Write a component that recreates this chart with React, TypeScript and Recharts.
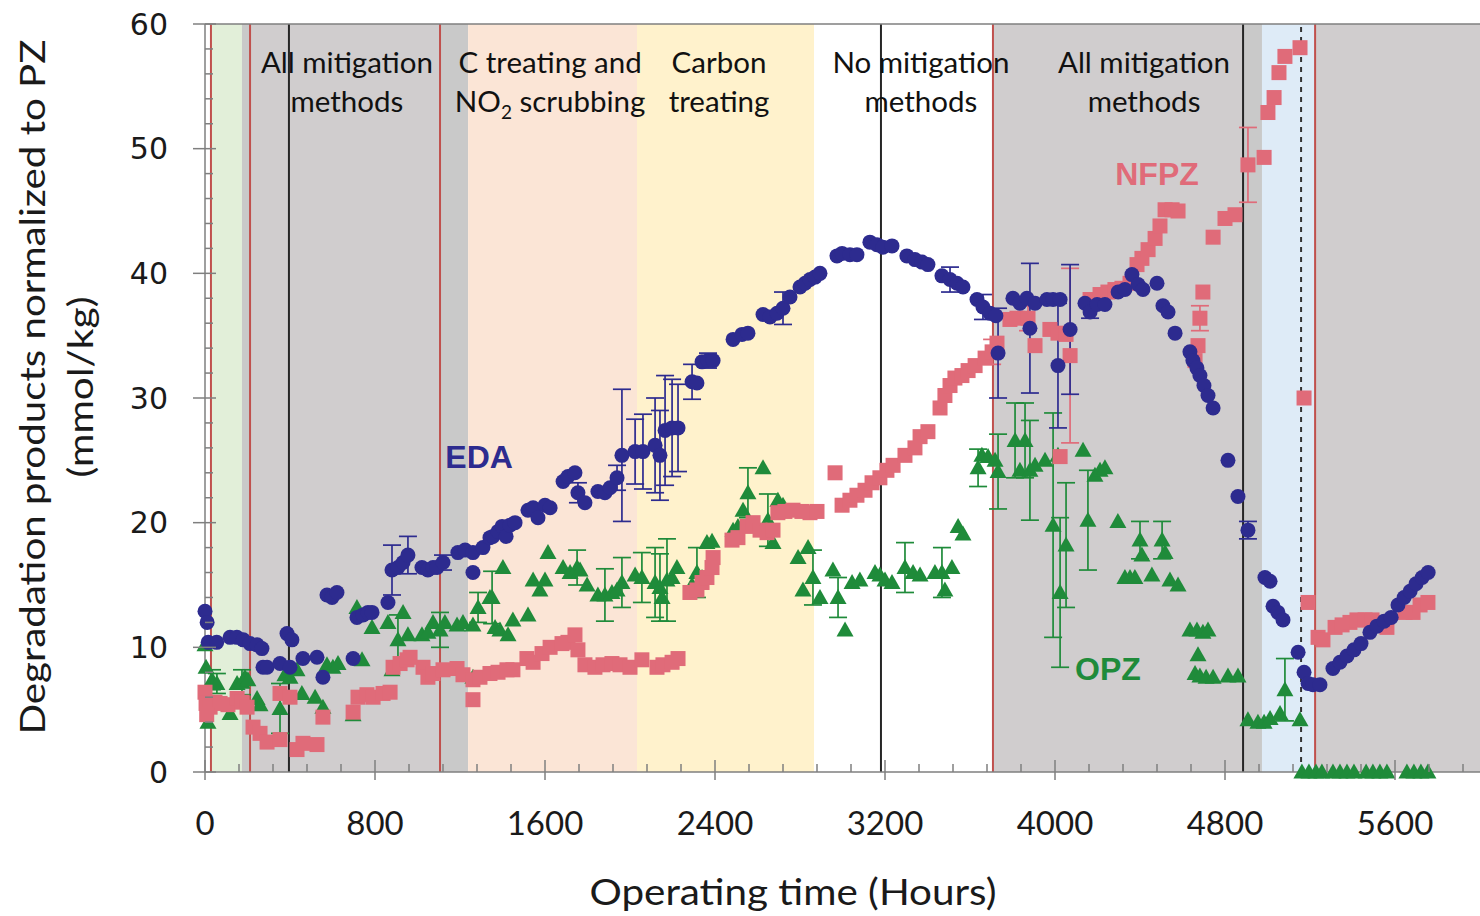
import React from 'react';
import {
  ComposedChart,
  Scatter,
  XAxis,
  YAxis,
  ReferenceArea,
  ReferenceLine,
  ReferenceDot,
  ErrorBar,
  Label,
} from 'recharts';

// [operating hours, concentration (mmol/kg), optional ± error]
type Pt = [number, number] | [number, number, number];

const edaPoints: Pt[] = [
  [0, 12.9], [10, 12.0], [15, 10.4], [55, 10.4], [118, 10.8], [150, 10.8], [180, 10.6],
  [212, 10.3], [245, 10.2], [268, 9.9], [273, 8.4], [292, 8.4], [353, 8.7], [386, 11.1],
  [409, 10.6], [400, 8.4], [461, 9.1], [527, 9.2], [555, 7.6], [574, 14.2], [598, 14.0],
  [621, 14.4], [697, 9.1], [715, 12.4], [744, 12.6], [767, 12.8], [786, 12.8], [861, 13.6],
  [880, 16.2, 2.0], [908, 16.4], [932, 16.8], [955, 17.4, 1.5], [1021, 16.4], [1049, 16.2],
  [1073, 16.4], [1092, 16.4], [1120, 16.8, 0.6], [1190, 17.6], [1224, 17.8], [1261, 17.6],
  [1261, 16.0], [1308, 18.0], [1341, 18.8], [1355, 18.9], [1379, 19.3], [1398, 19.7],
  [1417, 18.9], [1435, 19.8], [1459, 20.0], [1520, 21.0], [1544, 21.2], [1567, 20.4],
  [1600, 21.4], [1624, 21.2], [1685, 23.3], [1708, 23.7], [1741, 24.0], [1755, 22.4, 0.8],
  [1788, 21.6], [1849, 22.5], [1882, 22.4], [1906, 22.8], [1939, 23.6, 1.0],
  [1962, 25.4, 5.3], [2024, 25.7, 2.6], [2061, 25.7, 3.0], [2118, 26.2, 3.8],
  [2141, 25.4, 3.6], [2165, 27.4, 4.4], [2198, 27.6, 3.9], [2226, 27.6, 3.5],
  [2292, 31.3, 1.4], [2315, 31.2], [2339, 32.9], [2367, 33.0, 0.6], [2391, 33.0],
  [2485, 34.7], [2527, 35.1], [2555, 35.2], [2626, 36.7], [2659, 36.5], [2692, 36.8],
  [2720, 37.2, 1.3], [2753, 38.1], [2800, 38.9], [2824, 39.2], [2847, 39.5], [2871, 39.7],
  [2894, 40.0], [2974, 41.4], [2998, 41.6], [3035, 41.5], [3068, 41.5], [3129, 42.5],
  [3162, 42.3], [3190, 42.1], [3233, 42.2], [3303, 41.4], [3341, 41.1], [3374, 40.9],
  [3402, 40.7], [3468, 39.8], [3506, 39.5, 1.0], [3539, 39.2], [3567, 38.9], [3633, 37.9],
  [3661, 37.3, 1.0], [3694, 36.8], [3722, 36.6], [3732, 33.6, 3.6], [3802, 38.0],
  [3835, 37.6], [3868, 38.0], [3906, 37.6], [3882, 35.6, 5.2], [3962, 37.9], [3991, 37.9],
  [4024, 37.9], [4014, 32.6, 5.0], [4071, 35.5, 5.2], [4141, 37.6], [4165, 36.9, 0.5],
  [4198, 37.5], [4235, 37.5], [4297, 38.5], [4329, 38.7], [4362, 39.9], [4391, 39.1],
  [4414, 38.7], [4480, 39.2], [4508, 37.4], [4532, 36.9], [4565, 35.2], [4635, 33.7],
  [4649, 33.0], [4668, 32.4], [4682, 31.8], [4701, 31.0], [4720, 30.2], [4744, 29.2],
  [4814, 25.0], [4861, 22.1], [4908, 19.4, 0.7], [4988, 15.6], [5012, 15.3], [5026, 13.3],
  [5049, 12.8], [5073, 12.2], [5144, 9.6], [5172, 8.0], [5191, 7.1], [5214, 7.0],
  [5247, 7.0], [5308, 8.3], [5341, 8.8], [5374, 9.3], [5407, 9.8], [5440, 10.3],
  [5482, 11.2], [5515, 11.7], [5549, 12.1], [5582, 12.4], [5614, 13.4], [5643, 14.0],
  [5671, 14.5], [5699, 15.1], [5728, 15.6], [5756, 16.0],
];

const nfpzPoints: Pt[] = [
  [0, 6.4], [5, 5.5], [24, 5.2], [47, 5.6], [71, 5.5], [8, 4.6], [108, 5.4], [151, 5.9],
  [174, 5.6], [198, 5.2], [226, 3.6], [259, 3.1], [292, 2.4], [353, 2.6], [353, 6.3],
  [400, 6.0], [433, 1.8], [461, 2.3], [527, 2.2], [555, 4.4], [697, 4.8], [720, 6.0],
  [762, 6.2], [791, 6.0], [838, 6.3], [871, 6.4], [885, 8.4], [918, 8.7], [951, 9.0],
  [965, 9.2], [1026, 8.4], [1049, 7.6], [1073, 7.9], [1120, 8.2], [1186, 8.3], [1214, 7.8],
  [1261, 7.4], [1261, 5.8], [1294, 7.6], [1341, 7.9], [1379, 8.0], [1421, 8.2], [1449, 8.2],
  [1515, 9.1], [1544, 8.8], [1586, 9.5], [1624, 10.0], [1680, 10.3], [1708, 10.4],
  [1741, 11.0], [1755, 9.8], [1788, 8.6], [1835, 8.4], [1873, 8.6], [1915, 8.7], [1953, 8.6],
  [2000, 8.4], [2056, 9.0], [2127, 8.4], [2155, 8.6], [2198, 8.8], [2226, 9.1], [2282, 14.4],
  [2315, 14.6], [2339, 15.2], [2362, 15.6], [2386, 16.4], [2391, 17.2], [2480, 18.6],
  [2508, 18.8], [2551, 19.7], [2579, 20.0], [2612, 19.4], [2645, 19.2], [2673, 19.4],
  [2696, 20.8], [2729, 20.9], [2767, 21.0], [2809, 20.9], [2847, 20.8], [2880, 20.9],
  [2965, 24.0], [2998, 21.4], [3035, 21.8], [3068, 22.2], [3106, 22.6], [3139, 23.2],
  [3176, 23.6], [3209, 24.2], [3238, 24.6], [3294, 25.4], [3341, 26.0], [3365, 26.9],
  [3402, 27.3], [3459, 29.2], [3482, 30.2], [3506, 31.0], [3529, 31.6], [3562, 31.8],
  [3591, 32.2], [3624, 32.6], [3671, 33.2], [3704, 33.7, 1.0], [3727, 34.4], [3788, 36.3],
  [3821, 36.4], [3873, 36.4, 1.0], [3906, 34.2], [3976, 35.5], [4014, 35.2], [4052, 35.1],
  [4024, 25.3], [4071, 33.4, 7.0], [4165, 37.9], [4212, 38.3], [4249, 38.5], [4282, 38.7],
  [4315, 38.8], [4353, 39.2], [4386, 40.7], [4409, 41.2], [4438, 41.9], [4471, 42.8],
  [4494, 43.8], [4518, 45.1], [4551, 45.1], [4579, 45.0], [4659, 33.0], [4673, 34.2],
  [4682, 36.4, 1.0], [4696, 38.5], [4744, 42.9], [4800, 44.4], [4847, 44.7],
  [4908, 48.7, 3.0], [4984, 49.3], [5002, 52.9], [5031, 54.1], [5054, 56.1], [5082, 57.4],
  [5153, 58.1], [5172, 30.0], [5191, 13.6], [5238, 10.8], [5261, 10.6], [5318, 11.6],
  [5351, 11.8], [5388, 12.0], [5421, 12.2], [5459, 12.2], [5492, 12.2], [5529, 12.0],
  [5562, 11.6], [5647, 12.8], [5685, 12.8], [5718, 13.4], [5755, 13.6],
];

const opzPoints: Pt[] = [
  [0, 10.2], [5, 8.4], [14, 4.0], [33, 7.4, 0.8], [56, 7.1, 0.8], [118, 4.7], [151, 7.1],
  [174, 7.2, 1.0], [188, 7.6], [202, 7.4], [245, 5.9], [259, 5.4], [353, 5.1, 2.0],
  [376, 7.8], [400, 7.6], [433, 8.2], [456, 6.3], [518, 6.0], [555, 5.2], [574, 8.6],
  [602, 8.4], [626, 8.7], [697, 4.6], [715, 13.2], [739, 9.0], [786, 11.6], [861, 12.0],
  [880, 8.2], [908, 10.6, 2.0], [932, 12.8], [955, 11.0], [1021, 11.0], [1049, 11.2],
  [1073, 12.0], [1106, 11.4, 1.4], [1129, 12.0], [1186, 11.8], [1214, 12.0], [1261, 11.8],
  [1261, 7.6], [1285, 13.2, 1.2], [1341, 14.0], [1351, 14.0, 2.1], [1365, 11.6],
  [1388, 11.4], [1402, 16.4], [1426, 11.0], [1449, 12.2], [1520, 12.6], [1544, 15.4],
  [1576, 14.6], [1600, 15.4], [1614, 17.6], [1685, 16.4], [1718, 16.0], [1751, 16.4, 1.4],
  [1765, 16.2], [1798, 15.0], [1849, 14.2], [1882, 14.2, 2.1], [1915, 14.4], [1939, 14.6],
  [1962, 15.2, 2.0], [2024, 15.8], [2056, 15.6, 2.0], [2118, 15.2, 2.8], [2141, 14.8, 2.7],
  [2151, 14.0], [2174, 15.4, 3.3], [2198, 15.6], [2221, 16.4], [2292, 15.0],
  [2315, 16.0, 2.0], [2339, 15.6], [2362, 18.4], [2386, 18.5], [2485, 19.4], [2508, 19.7],
  [2532, 21.0], [2555, 22.4, 2.0], [2626, 24.4], [2649, 20.2, 2.1], [2673, 18.4],
  [2696, 21.8], [2720, 21.4], [2791, 17.2], [2814, 14.6], [2838, 18.0], [2861, 15.6, 2.2],
  [2894, 14.0], [2955, 16.2], [2979, 14.0, 1.6], [3012, 11.4], [3045, 15.2], [3082, 15.4],
  [3153, 16.0], [3176, 15.8], [3200, 15.4], [3233, 15.2], [3294, 16.4, 2.0], [3332, 16.0],
  [3365, 15.8], [3435, 16.0], [3468, 16.0, 2.0], [3482, 14.6], [3515, 16.4], [3544, 19.7],
  [3567, 19.1], [3638, 24.4, 1.5], [3656, 25.4], [3685, 25.3], [3718, 25.0],
  [3732, 24.1, 3.0], [3812, 26.6, 3.0], [3835, 24.2], [3859, 26.6, 3.0], [3882, 24.2, 4.0],
  [3906, 24.6], [3953, 25.0], [3991, 19.8, 9.0], [4014, 25.4], [4024, 14.4, 6.0],
  [4052, 18.2, 5.0], [4132, 25.8], [4155, 20.2, 4.0], [4188, 23.8], [4212, 24.2],
  [4235, 24.4], [4296, 20.1], [4329, 15.6], [4353, 15.6], [4376, 15.6], [4400, 18.6, 1.5],
  [4409, 17.4], [4456, 15.8], [4504, 18.6, 1.5], [4518, 17.6], [4541, 15.4], [4579, 15.0],
  [4635, 11.4], [4668, 11.4], [4696, 11.2], [4720, 11.4], [4659, 7.9], [4682, 7.7],
  [4711, 7.6], [4744, 7.6], [4673, 9.4], [4814, 7.7], [4861, 7.7], [4908, 4.2], [4955, 4.0],
  [4984, 4.0], [5012, 4.3], [5059, 4.7], [5082, 6.6, 2.5], [5153, 4.2], [5162, 0],
  [5195, 0], [5228, 0], [5256, 0], [5308, 0], [5341, 0], [5374, 0], [5407, 0], [5464, 0],
  [5496, 0], [5529, 0], [5562, 0], [5656, 0], [5689, 0], [5722, 0], [5755, 0],
];

// Operating campaigns, in hours
const startupBand: [number, number] = [28, 174];
const mitigationBands: [number, number][] = [[212, 1106], [3708, 4885], [5224, 6000]];
const transitionBands: [number, number][] = [[174, 212], [1106, 1238], [4885, 4974]];
const treatingNo2Band: [number, number] = [1238, 2033];
const carbonBand: [number, number] = [2033, 2866];
const pilotBand: [number, number] = [4974, 5224];

const redEvents = [28, 212, 1106, 3708, 5224];
const blackEvents = [395, 3181, 4885];
const dashedEvents = [5158];

const phaseLabels = [
  { h: 668, lines: ['All mitigation', 'methods'] },
  { h: 1624, lines: ['C treating and', 'NO\u2082 scrubbing'] },
  { h: 2419, lines: ['Carbon', 'treating'] },
  { h: 3369, lines: ['No mitigation', 'methods'] },
  { h: 4419, lines: ['All mitigation', 'methods'] },
];

const seriesTags = [
  { name: 'EDA', h: 1290, v: 25.3, color: '#2d2b8f' },
  { name: 'NFPZ', h: 4480, v: 48.0, color: '#e06b79' },
  { name: 'OPZ', h: 4249, v: 8.3, color: '#1f8b3a' },
];

const xLabelTicks = [0, 800, 1600, 2400, 3200, 4000, 4800, 5600];
const bottomTicks = Array.from({ length: 38 }, (_, i) => i * 160);
const topTicks = Array.from({ length: 75 }, (_, i) => i * 80);
const yTicks = Array.from({ length: 31 }, (_, i) => i * 2);

const EDA_COLOR = '#2d2b8f';
const NFPZ_COLOR = '#e06b79';
const OPZ_COLOR = '#1f8b3a';
const AXIS_COLOR = '#7f7f7f';
const GRAY = '#d0cdce';
const GRAY_EDGE = '#c9c9c9';
const TEXT_FONT = 'Lato, "Open Sans", sans-serif';

const toRows = (pts: Pt[]) =>
  pts.map(([h, v, err]) => (err === undefined ? { h, v } : { h, v, err }));

const circleShape = (p: any) => <circle cx={p.cx} cy={p.cy} r={7.5} fill={EDA_COLOR} />;
const squareShape = (p: any) => (
  <rect x={p.cx - 7.5} y={p.cy - 7.5} width={15} height={15} fill={NFPZ_COLOR} />
);
const triangleShape = (p: any) => (
  <polygon
    points={`${p.cx},${p.cy - 8.5} ${p.cx - 8.5},${p.cy + 6.5} ${p.cx + 8.5},${p.cy + 6.5}`}
    fill={OPZ_COLOR}
  />
);

const BottomTick = (props: any) => {
  const { x, y, payload } = props;
  const major = payload.value % 800 === 0;
  return (
    <g>
      <line x1={x} x2={x} y1={y - (major ? 12 : 8)} y2={y + (major ? 8 : 0)} stroke={AXIS_COLOR} strokeWidth={1.5} />
      {xLabelTicks.includes(payload.value) && (
        <text x={x} y={y + 51} textAnchor="middle" dy="0.35em" fontSize={33} fontFamily={TEXT_FONT} fill="#1a1a1a">
          {payload.value}
        </text>
      )}
    </g>
  );
};

const TopTick = (props: any) => {
  const { x, y, payload } = props;
  const major = payload.value % 400 === 0;
  return (
    <line x1={x} x2={x} y1={y - (major ? 8 : 0)} y2={y + (major ? 10 : 7)} stroke={AXIS_COLOR} strokeWidth={1.5} />
  );
};

const LeftTick = (props: any) => {
  const { x, y, payload } = props;
  const major = payload.value % 10 === 0;
  return (
    <g>
      <line x1={x - (major ? 12 : 0)} x2={x + (major ? 11 : 8)} y1={y} y2={y} stroke={AXIS_COLOR} strokeWidth={1.5} />
      {major && (
        <text x={x - 37} y={y} textAnchor="end" dy="0.36em" fontSize={30} fontFamily='"DejaVu Sans", sans-serif' fill="#1a1a1a">
          {payload.value}
        </text>
      )}
    </g>
  );
};

const renderLine = (line: string) => {
  const parts = line.split('\u2082');
  if (parts.length === 1) return line;
  return (
    <>
      {parts[0]}
      <tspan fontSize={19} dy={7}>2</tspan>
      <tspan dy={-7}>{parts[1]}</tspan>
    </>
  );
};

const phaseLabelShape = (lines: string[]) => (p: any) => (
  <g>
    {lines.map((line, i) => (
      <text
        key={i}
        x={p.cx}
        y={p.cy + (i === 0 ? -19.5 : 19.5)}
        textAnchor="middle"
        dy="0.35em"
        fontSize={29.5}
        fontFamily={TEXT_FONT}
        fill="#111"
      >
        {renderLine(line)}
      </text>
    ))}
  </g>
);

const tagShape = (name: string, color: string) => (p: any) => (
  <text
    x={p.cx}
    y={p.cy}
    textAnchor="middle"
    dy="0.36em"
    fontSize={32}
    fontWeight="bold"
    fontFamily='"Liberation Sans", Arial, sans-serif'
    fill={color}
  >
    {name}
  </text>
);

const YTitle = (props: any) => {
  const { viewBox } = props;
  const cy = viewBox.y + viewBox.height / 2 - 11;
  const x1 = 33;
  const x2 = 81;
  return (
    <g fontFamily={TEXT_FONT} fill="#1a1a1a">
      <text
        x={x1}
        y={cy}
        transform={`rotate(-90 ${x1} ${cy})`}
        textAnchor="middle"
        dy="0.35em"
        fontSize={35}
        textLength={695}
        lengthAdjust="spacingAndGlyphs"
      >
        Degradation products normalized to PZ
      </text>
      <text
        x={x2}
        y={cy}
        transform={`rotate(-90 ${x2} ${cy})`}
        textAnchor="middle"
        dy="0.35em"
        fontSize={35}
        textLength={181}
        lengthAdjust="spacingAndGlyphs"
      >
        (mmol/kg)
      </text>
    </g>
  );
};

const XTitle = (props: any) => {
  const { viewBox } = props;
  const cx = viewBox.x + 588;
  const cy = viewBox.y + 120;
  return (
    <text
      x={cx}
      y={cy}
      textAnchor="middle"
      dy="0.35em"
      fontSize={37}
      textLength={407}
      lengthAdjust="spacingAndGlyphs"
      fontFamily={TEXT_FONT}
      fill="#1a1a1a"
    >
      Operating time (Hours)
    </text>
  );
};

export default function App() {
  const band = (r: [number, number], fill: string, key: string) => (
    <ReferenceArea
      key={key}
      xAxisId="b"
      yAxisId="l"
      x1={r[0]}
      x2={r[1]}
      y1={0}
      y2={60}
      fill={fill}
      fillOpacity={1}
      stroke="none"
    />
  );

  return (
    <div style={{ position: 'absolute', left: 0, top: 0, width: 1480, height: 916, background: '#fff' }}>
      <ComposedChart width={1480} height={916} margin={{ top: 20, right: 0, bottom: 44, left: 55 }}>
        {band(startupBand, '#e2efd9', 'startup')}
        {mitigationBands.map((r, i) => band(r, GRAY, `m${i}`))}
        {transitionBands.map((r, i) => band(r, GRAY_EDGE, `t${i}`))}
        {band(treatingNo2Band, '#fbe5d6', 'cno2')}
        {band(carbonBand, '#fff2cc', 'carbon')}
        {band(pilotBand, '#deebf7', 'pilot')}

        {redEvents.map((h) => (
          <ReferenceLine key={`r${h}`} xAxisId="b" yAxisId="l" x={h} stroke="#c0504d" strokeWidth={2} />
        ))}
        {blackEvents.map((h) => (
          <ReferenceLine key={`k${h}`} xAxisId="b" yAxisId="l" x={h} stroke="#262626" strokeWidth={2} />
        ))}
        {dashedEvents.map((h) => (
          <ReferenceLine key={`d${h}`} xAxisId="b" yAxisId="l" x={h} stroke="#333" strokeWidth={2} strokeDasharray="5 5" />
        ))}

        {phaseLabels.map((l, i) => (
          <ReferenceDot key={`p${i}`} xAxisId="b" yAxisId="l" x={l.h} y={55.3} r={0} shape={phaseLabelShape(l.lines)} />
        ))}

        <Scatter name="OPZ" xAxisId="b" yAxisId="l" data={toRows(opzPoints)} dataKey="v" shape={triangleShape} isAnimationActive={false}>
          <ErrorBar dataKey="err" direction="y" width={9} stroke={OPZ_COLOR} strokeWidth={1.7} isAnimationActive={false} />
        </Scatter>
        <Scatter name="NFPZ" xAxisId="b" yAxisId="l" data={toRows(nfpzPoints)} dataKey="v" shape={squareShape} isAnimationActive={false}>
          <ErrorBar dataKey="err" direction="y" width={9} stroke={NFPZ_COLOR} strokeWidth={1.7} isAnimationActive={false} />
        </Scatter>
        <Scatter name="EDA" xAxisId="b" yAxisId="l" data={toRows(edaPoints)} dataKey="v" shape={circleShape} isAnimationActive={false}>
          <ErrorBar dataKey="err" direction="y" width={9} stroke={EDA_COLOR} strokeWidth={1.7} isAnimationActive={false} />
        </Scatter>

        {seriesTags.map((t) => (
          <ReferenceDot key={t.name} xAxisId="b" yAxisId="l" x={t.h} y={t.v} r={0} shape={tagShape(t.name, t.color)} />
        ))}

        <XAxis
          xAxisId="b"
          type="number"
          dataKey="h"
          domain={[0, 6000]}
          ticks={bottomTicks}
          interval={0}
          tickSize={0}
          tickMargin={0}
          tickLine={false}
          tick={<BottomTick />}
          axisLine={{ stroke: AXIS_COLOR, strokeWidth: 1.5 }}
          height={100}
        >
          <Label content={<XTitle />} />
        </XAxis>
        <XAxis
          xAxisId="t"
          orientation="top"
          type="number"
          domain={[0, 6000]}
          ticks={topTicks}
          interval={0}
          tickSize={0}
          tickMargin={0}
          tickLine={false}
          tick={<TopTick />}
          axisLine={{ stroke: AXIS_COLOR, strokeWidth: 1.5 }}
          height={4}
        />
        <YAxis
          yAxisId="l"
          type="number"
          domain={[0, 60]}
          ticks={yTicks}
          interval={0}
          tickSize={0}
          tickMargin={0}
          tickLine={false}
          tick={<LeftTick />}
          axisLine={{ stroke: AXIS_COLOR, strokeWidth: 1.5 }}
          width={150}
        >
          <Label content={<YTitle />} />
        </YAxis>
      </ComposedChart>
    </div>
  );
}
